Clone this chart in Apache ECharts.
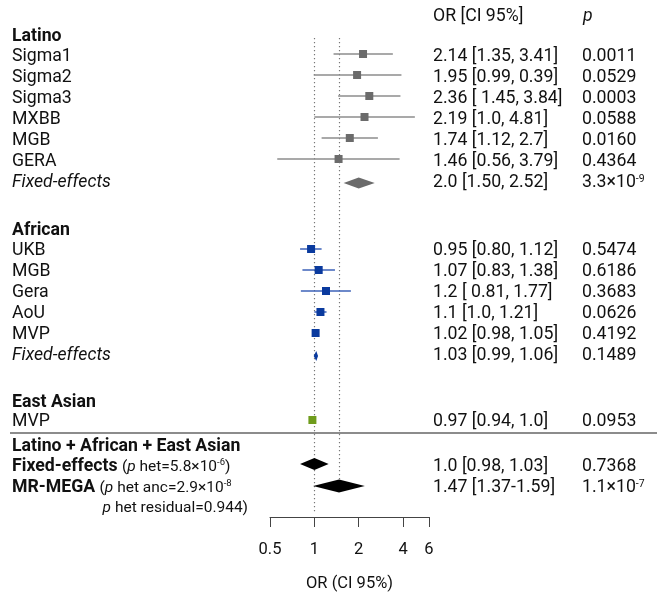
<!DOCTYPE html>
<html><head><meta charset="utf-8">
<script src="https://cdn.jsdelivr.net/npm/echarts@6/dist/echarts.min.js"></script>
<style>html,body{margin:0;padding:0;background:#fff}#c{width:663px;height:592px}</style>
</head><body><div id="c"></div>
<script>
// ---------------- DATA ----------------
const latinoStudies = ['Sigma1', 'Sigma2', 'Sigma3', 'MXBB', 'MGB', 'GERA'];
const latinoOR = [2.14, 1.95, 2.36, 2.19, 1.74, 1.46];
const latinoLo = [1.35, 0.99, 1.45, 1.0, 1.12, 0.56];
const latinoHi = [3.41, 3.9, 3.84, 4.81, 2.7, 3.79];
const latinoText = ['2.14 [1.35, 3.41]', '1.95 [0.99, 0.39]', '2.36 [ 1.45, 3.84]', '2.19 [1.0, 4.81]', '1.74 [1.12, 2.7]', '1.46 [0.56, 3.79]'];
const latinoP = ['0.0011', '0.0529', '0.0003', '0.0588', '0.0160', '0.4364'];
const latinoFixed = [1.58, 2.0, 2.57];           // drawn diamond: lo, est, hi
const latinoFixedText = '2.0 [1.50, 2.52]';
const latinoFixedP = '3.3×10{sup|-9}';

const africanStudies = ['UKB', 'MGB', 'Gera', 'AoU', 'MVP'];
const africanOR = [0.95, 1.07, 1.2, 1.1, 1.02];
const africanLo = [0.80, 0.83, 0.81, 1.0, 0.98];
const africanHi = [1.12, 1.38, 1.77, 1.21, 1.05];
const africanText = ['0.95 [0.80, 1.12]', '1.07 [0.83, 1.38]', '1.2 [ 0.81, 1.77]', '1.1 [1.0, 1.21]', '1.02 [0.98, 1.05]'];
const africanP = ['0.5474', '0.6186', '0.3683', '0.0626', '0.4192'];
const africanFixed = [0.99, 1.03, 1.06];
const africanFixedText = '1.03 [0.99, 1.06]';
const africanFixedP = '0.1489';

const eastStudies = ['MVP'];
const eastOR = [0.97];
const eastLo = [0.94];
const eastHi = [1.0];
const eastText = ['0.97 [0.94, 1.0]'];
const eastP = ['0.0953'];

const combFixed = [0.80, 1.0, 1.25];
const combFixedText = '1.0 [0.98, 1.03]';
const combFixedP = '0.7368';
const megaDiamond = [0.98, 1.47, 2.2];
const megaText = '1.47 [1.37-1.59]';
const megaP = '1.1×10{sup|-7}';

const refLines = [1, 1.47];
const tickValues = [0.5, 1, 2, 4, 6];

// ---------------- LAYOUT ----------------
const FONT = 'Roboto';
const FS = 17.7;
const ROW = 21;
const TDY = 2;   // text baseline nudge
const X_LABEL = 12, X_OR = 433, X_P = 582;
const yHeader = 15;
const yLatinoHead = 35;
const latinoY = latinoStudies.map((_, i) => 55 + ROW * i);
const yLatinoFixed = 55 + ROW * latinoStudies.length;
const yAfricanHead = 229;
const africanY = africanStudies.map((_, i) => 249 + ROW * i);
const yAfricanFixed = 249 + ROW * africanStudies.length;
const yEastHead = 401;
const eastY = eastStudies.map((_, i) => 420 + ROW * i);
const ySep = 433;
const yCombHead = 445;
const yCombFixed = 465;
const yMega = 486;
const yResid = 506;

const GREY = '#6b6b6b', GREY_L = '#8c8c8c';
const BLUE = '#0a3a9e', BLUE_L = '#3d62b8';
const GREEN = '#6f9c1c';

// CI + square marks
const ciData = [];
latinoStudies.forEach((s, i) => ciData.push({ value: [latinoLo[i], latinoOR[i], latinoHi[i], latinoY[i] - 1], c: GREY, lc: GREY_L }));
africanStudies.forEach((s, i) => ciData.push({ value: [africanLo[i], africanOR[i], africanHi[i], africanY[i]], c: BLUE, lc: BLUE_L }));
eastStudies.forEach((s, i) => ciData.push({ value: [eastLo[i], eastOR[i], eastHi[i], eastY[i]], c: GREEN, lc: GREEN }));

const diaData = [
  { value: [...latinoFixed, yLatinoFixed + 2], c: GREY, h: 11 },
  { value: [...africanFixed, yAfricanFixed + 2], c: BLUE, h: 10 },
  { value: [...combFixed, yCombFixed - 1], c: '#000', h: 12 },
  { value: [...megaDiamond, yMega], c: '#000', h: 13 }
];

const refData = [
  { value: [refLines[0], 38, 512] },
  { value: [refLines[1], 38, 487] }
];

// ---------------- TEXT ----------------
const RICH = {
  b: { fontWeight: 'bold', fontSize: FS, fontFamily: FONT, fill: '#111' },
  i: { fontStyle: 'italic', fontSize: FS, fontFamily: FONT, fill: '#111' },
  sup: { fontSize: 10.5, fontFamily: FONT, verticalAlign: 'top', fill: '#111' },
  sm: { fontSize: 15.5, fontFamily: FONT, fill: '#111' },
  smi: { fontSize: 15.5, fontStyle: 'italic', fontFamily: FONT, fill: '#111' },
  smsup: { fontSize: 9.5, fontFamily: FONT, verticalAlign: 'top', fill: '#111' }
};
function txt(x, y, text, extra) {
  return {
    type: 'text', x: x, y: y + TDY, silent: true, z: 10,
    style: Object.assign({ text: text, fill: '#111', fontFamily: FONT, fontSize: FS, align: 'left', verticalAlign: 'middle', rich: RICH }, extra || {})
  };
}
const graphics = [];
graphics.push(txt(X_OR, yHeader, 'OR [CI 95%]'));
graphics.push(txt(X_P + 1, yHeader, 'p', { fontStyle: 'italic' }));
graphics.push(txt(X_LABEL, yLatinoHead, 'Latino', { fontWeight: 'bold' }));
latinoStudies.forEach((s, i) => {
  graphics.push(txt(X_LABEL, latinoY[i], s));
  graphics.push(txt(X_OR, latinoY[i], latinoText[i]));
  graphics.push(txt(X_P, latinoY[i], latinoP[i]));
});
graphics.push(txt(X_LABEL, yLatinoFixed, 'Fixed-effects', { fontStyle: 'italic' }));
graphics.push(txt(X_OR, yLatinoFixed, latinoFixedText));
graphics.push(txt(X_P, yLatinoFixed, latinoFixedP));

graphics.push(txt(X_LABEL, yAfricanHead, 'African', { fontWeight: 'bold' }));
africanStudies.forEach((s, i) => {
  graphics.push(txt(X_LABEL, africanY[i], s));
  graphics.push(txt(X_OR, africanY[i], africanText[i]));
  graphics.push(txt(X_P, africanY[i], africanP[i]));
});
graphics.push(txt(X_LABEL, yAfricanFixed, 'Fixed-effects', { fontStyle: 'italic' }));
graphics.push(txt(X_OR, yAfricanFixed, africanFixedText));
graphics.push(txt(X_P, yAfricanFixed, africanFixedP));

graphics.push(txt(X_LABEL, yEastHead, 'East Asian', { fontWeight: 'bold' }));
eastStudies.forEach((s, i) => {
  graphics.push(txt(X_LABEL, eastY[i], s));
  graphics.push(txt(X_OR, eastY[i], eastText[i]));
  graphics.push(txt(X_P, eastY[i], eastP[i]));
});
graphics.push({ type: 'line', silent: true, shape: { x1: 10, y1: ySep, x2: 657, y2: ySep }, style: { stroke: '#666', lineWidth: 1.5 } });

graphics.push(txt(X_LABEL, yCombHead, 'Latino + African + East Asian', { fontWeight: 'bold' }));
graphics.push(txt(X_LABEL, yCombFixed, '{b|Fixed-effects} {sm|(}{smi|p}{sm| het=5.8×10}{smsup|-6}{sm|)}'));
graphics.push(txt(X_OR, yCombFixed, combFixedText));
graphics.push(txt(X_P, yCombFixed, combFixedP));
graphics.push(txt(X_LABEL, yMega, '{b|MR-MEGA} {sm|(}{smi|p}{sm| het anc=2.9×10}{smsup|-8}'));
graphics.push(txt(248, yResid, '{smi|p}{sm| het residual=0.944)}', { align: 'right' }));
graphics.push(txt(X_OR, yMega, megaText));
graphics.push(txt(X_P, yMega, megaP));

// ---------------- CHART ----------------
const chart = echarts.init(document.getElementById('c'));
chart.setOption({
  animation: false,
  backgroundColor: '#fff',
  grid: { left: 270, top: 0, width: 159, height: 517, containLabel: false, outerBoundsMode: 'none' },
  xAxis: {
    type: 'log', logBase: 2, min: 0.5, max: 6, position: 'bottom',
    axisLine: { show: true, onZero: false, lineStyle: { color: '#444', width: 1 } },
    axisTick: { show: true, inside: false, length: 10, customValues: tickValues, lineStyle: { color: '#444', width: 1 } },
    axisLabel: { customValues: tickValues, margin: 24, fontSize: 16.5, color: '#111', fontFamily: FONT, formatter: v => String(v) },
    splitLine: { show: false },
    minorTick: { show: false },
    name: 'OR (CI 95%)', nameLocation: 'middle', nameGap: 58,
    nameTextStyle: { fontSize: 16.5, color: '#111', fontFamily: FONT }
  },
  yAxis: { type: 'value', min: 0, max: 517, inverse: true, show: false },
  graphic: graphics,
  series: [
    {
      type: 'custom', name: 'ref', data: refData, encode: { x: 0, y: [1, 2] }, z: 1,
      renderItem: function (params, api) {
        const a = api.coord([api.value(0), api.value(1)]);
        const b = api.coord([api.value(0), api.value(2)]);
        return { type: 'line', shape: { x1: Math.round(a[0]) + 0.5, y1: a[1], x2: Math.round(b[0]) + 0.5, y2: b[1] }, style: { stroke: '#777', lineWidth: 1.2, lineDash: [1.2, 2.8] } };
      }
    },
    {
      type: 'custom', name: 'ci', data: ciData, encode: { x: [0, 1, 2], y: 3 }, z: 3,
      renderItem: function (params, api) {
        const d = ciData[params.dataIndex];
        const lo = api.coord([api.value(0), api.value(3)]);
        const mid = api.coord([api.value(1), api.value(3)]);
        const hi = api.coord([api.value(2), api.value(3)]);
        return {
          type: 'group', children: [
            { type: 'line', shape: { x1: lo[0], y1: lo[1], x2: hi[0], y2: hi[1] }, style: { stroke: d.lc, lineWidth: 1.5 } },
            { type: 'rect', shape: { x: mid[0] - 4, y: mid[1] - 4, width: 8, height: 8 }, style: { fill: d.c } }
          ]
        };
      }
    },
    {
      type: 'custom', name: 'diamond', data: diaData, encode: { x: [0, 1, 2], y: 3 }, z: 3,
      renderItem: function (params, api) {
        const d = diaData[params.dataIndex];
        const lo = api.coord([api.value(0), api.value(3)]);
        const mid = api.coord([api.value(1), api.value(3)]);
        const hi = api.coord([api.value(2), api.value(3)]);
        const h = d.h / 2;
        return { type: 'polygon', shape: { points: [[lo[0], lo[1]], [mid[0], mid[1] - h], [hi[0], hi[1]], [mid[0], mid[1] + h]] }, style: { fill: d.c } };
      }
    }
  ]
});
</script></body></html>
